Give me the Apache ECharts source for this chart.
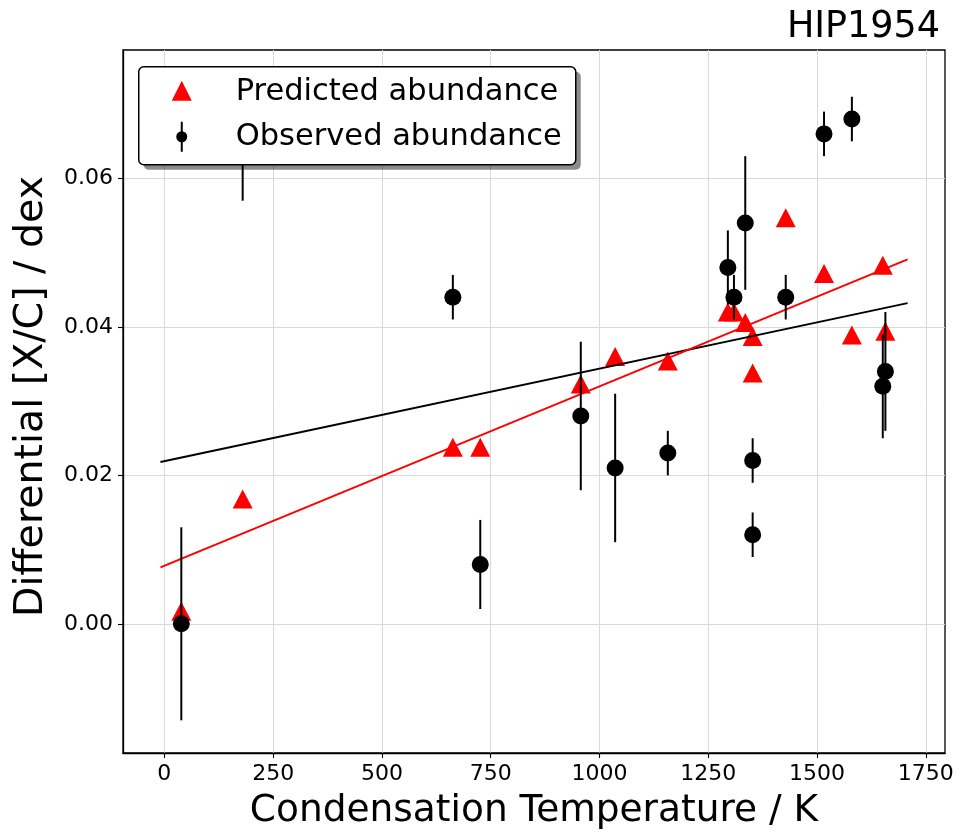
<!DOCTYPE html>
<html><head><meta charset="utf-8">
<script src="https://cdn.jsdelivr.net/npm/echarts@6/dist/echarts.min.js"></script>
<style>html,body{margin:0;padding:0;background:#fff}#c{width:962px;height:836px}</style>
</head><body><div id="c"></div>
<script>
// Condensation temperature (K) of each element
const tcond = [39, 180, 663, 726, 957, 1036, 1157, 1295, 1309, 1335, 1352, 1352, 1428, 1516, 1580, 1651, 1657];
// Observed differential abundance and its error
const observed    = [0.000, 0.065, 0.044, 0.008, 0.028, 0.021, 0.023, 0.048, 0.044, 0.054, 0.022, 0.012, 0.044, 0.066, 0.068, 0.032, 0.034];
const observedErr = [0.013, 0.008, 0.003, 0.006, 0.010, 0.010, 0.003, 0.005, 0.003, 0.009, 0.003, 0.003, 0.003, 0.003, 0.003, 0.007, 0.008];
// Predicted differential abundance
const predicted   = [0.0017, 0.0168, 0.0238, 0.0238, 0.0323, 0.0360, 0.0354, 0.0420, 0.0420, 0.0406, 0.0387, 0.0338, 0.0547, 0.0472, 0.0389, 0.0483, 0.0394];
// Linear fits (end points)
const fitT = [-9, 1708];
const predictedFit = [0.0076, 0.0491];
const observedFit  = [0.0218, 0.0432];
// Ticks
const xTicks = [0, 250, 500, 750, 1000, 1250, 1500, 1750];
const yTicks = [0, 0.02, 0.04, 0.06];
const title = 'HIP1954';
const xName = 'Condensation Temperature / K';
const yName = 'Differential [X/C] / dex';
const legendNames = ['Predicted abundance', 'Observed abundance'];

const FONT = 'DejaVu Sans';
const chart = echarts.init(document.getElementById('c'), null, {renderer: 'canvas'});

const obsData = tcond.map((t, i) => [t, observed[i], observedErr[i]]);
const predData = tcond.map((t, i) => [t, predicted[i]]);
const predFitData = fitT.map((t, i) => [t, predictedFit[i]]);
const obsFitData = fitT.map((t, i) => [t, observedFit[i]]);

const option = {
  animation: false,
  backgroundColor: '#fff',
  textStyle: {fontFamily: FONT},
  title: {
    text: title, right: 17, top: 4,
    textStyle: {fontFamily: FONT, fontSize: 36.5, fontWeight: 'normal', color: '#000'}
  },
  grid: {left: 123, right: 17, top: 50, bottom: 83, show: true, borderColor: '#000', borderWidth: 1.3, backgroundColor: 'transparent'},
  xAxis: {
    type: 'value', min: -95, max: 1794,
    name: xName, nameLocation: 'middle', nameGap: 39,
    nameTextStyle: {fontFamily: FONT, fontSize: 37.5, color: '#000'},
    axisLine: {show: true, onZero: false, lineStyle: {color: '#000', width: 1.3}},
    axisTick: {show: true, inside: false, length: 5, customValues: xTicks, lineStyle: {color: '#000', width: 1.1}},
    axisLabel: {show: true, customValues: xTicks, margin: 10, fontFamily: FONT, fontSize: 22, color: '#000', formatter: v => String(v)},
    splitLine: {show: true, lineStyle: {color: '#d9d9d9', width: 1}}
  },
  yAxis: {
    type: 'value', min: -0.0174, max: 0.0773,
    name: yName, nameLocation: 'middle', nameGap: 71, nameRotate: 90,
    nameTextStyle: {fontFamily: FONT, fontSize: 39.5, color: '#000', padding: [0, 0, 0, 10]},
    axisLine: {show: true, onZero: false, lineStyle: {color: '#000', width: 1.3}},
    axisTick: {show: true, inside: false, length: 5, customValues: yTicks, lineStyle: {color: '#000', width: 1.1}},
    axisLabel: {show: true, customValues: yTicks, margin: 10, fontFamily: FONT, fontSize: 22, color: '#000', formatter: v => v.toFixed(2)},
    splitLine: {show: true, lineStyle: {color: '#d9d9d9', width: 1}}
  },
  series: [
    {
      name: legendNames[0], type: 'scatter', data: predData, z: 2,
      symbol: 'triangle', symbolSize: [20, 19],
      itemStyle: {color: '#ff0000', opacity: 1}
    },
    {
      type: 'line', data: obsFitData, z: 3, symbol: 'none',
      lineStyle: {color: '#000', width: 2}
    },
    {
      type: 'line', data: predFitData, z: 4, symbol: 'none',
      lineStyle: {color: '#ff0000', width: 2}
    },
    {
      type: 'custom', data: obsData, z: 5,
      renderItem: (params, api) => {
        const x = api.value(0), y = api.value(1), e = api.value(2);
        const p1 = api.coord([x, y + e]);
        const p2 = api.coord([x, y - e]);
        return {type: 'line', shape: {x1: p1[0], y1: p1[1], x2: p2[0], y2: p2[1]}, style: {stroke: '#000', lineWidth: 2}};
      }
    },
    {
      name: legendNames[1], type: 'scatter', data: obsData, z: 6,
      symbol: 'circle', symbolSize: 17,
      itemStyle: {color: '#000', opacity: 1}
    }
  ],
  graphic: [
    {
      type: 'group', left: 138, top: 66, z: 100, zlevel: 1,
      children: [
        {type: 'rect', z: 100, shape: {x: 5, y: 5, width: 437, height: 98, r: 5}, style: {fill: 'rgba(0,0,0,0.45)'}},
        {type: 'rect', z: 101, shape: {x: 0, y: 0, width: 437, height: 98, r: 5}, style: {fill: '#fff', stroke: '#000', lineWidth: 1.5}},
        {type: 'polygon', z: 102, shape: {points: [[43, 14], [33, 34], [53, 34]]}, style: {fill: '#ff0000'}},
        {type: 'rect', z: 102, shape: {x: 42, y: 55, width: 2, height: 30}, style: {fill: '#000'}},
        {type: 'circle', z: 103, shape: {cx: 43, cy: 70, r: 5.5}, style: {fill: '#000'}},
        {type: 'text', z: 102, x: 97, y: 25, style: {text: legendNames[0], font: '30.5px "DejaVu Sans"', fill: '#000', verticalAlign: 'middle'}},
        {type: 'text', z: 102, x: 97, y: 70, style: {text: legendNames[1], font: '30.5px "DejaVu Sans"', fill: '#000', verticalAlign: 'middle'}}
      ]
    }
  ]
};
chart.setOption(option);
</script>
</body></html>
